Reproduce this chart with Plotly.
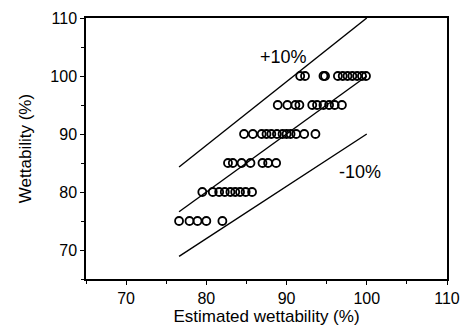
import plotly.graph_objects as go

# Measured points grouped by wettability level
row_75_x = [76.6, 77.9, 78.9, 80.0, 82.0]
row_80_x = [79.5, 80.8, 81.6, 82.3, 83.0, 83.6, 84.2, 84.9, 85.7]
row_85_x = [82.7, 83.3, 84.4, 85.5, 87.0, 87.7, 88.7]
row_90_x = [84.7, 85.8, 86.9, 87.5, 88.1, 88.8, 89.5, 90.0, 90.5, 91.2, 92.2, 93.6]
row_95_x = [88.9, 90.1, 91.1, 91.6, 93.2, 93.8, 94.6, 95.3, 96.0, 96.9]
row_100_x = [91.7, 92.3, 94.6, 94.8, 96.4, 97.0, 97.6, 98.2, 98.8, 99.4, 99.9]
row_levels = [75, 80, 85, 90, 95, 100]

# Reference lines (estimated endpoints)
line_x = [76.6, 100.0]
upper_y = [84.3, 110.0]
mid_y = [76.6, 100.0]
lower_y = [68.9, 90.0]

rows = [row_75_x, row_80_x, row_85_x, row_90_x, row_95_x, row_100_x]
xs, ys = [], []
for lvl, r in zip(row_levels, rows):
    xs += r
    ys += [lvl] * len(r)

FONT = "Liberation Sans, Arial"

fig = go.Figure()
for yy in (upper_y, mid_y, lower_y):
    fig.add_trace(go.Scatter(x=line_x, y=yy, mode="lines",
                             line=dict(color="black", width=1.4),
                             showlegend=False, hoverinfo="skip"))
fig.add_trace(go.Scatter(x=xs, y=ys, mode="markers",
                         marker=dict(symbol="circle-open", size=8, color="black",
                                     line=dict(width=1.8, color="black")),
                         showlegend=False))

fig.add_annotation(x=89.6, y=103.3, text="+10%", showarrow=False,
                   font=dict(size=18, color="black", family=FONT))
fig.add_annotation(x=99.2, y=83.5, text="-10%", showarrow=False,
                   font=dict(size=18, color="black", family=FONT))

axis_common = dict(showline=True, linecolor="black", linewidth=1.5, mirror=True,
                   ticks="outside", ticklen=4, tickwidth=1.2, tickcolor="black",
                   showgrid=False, zeroline=False, automargin=False,
                   tickfont=dict(size=16, color="black", family=FONT),
                   dtick=10,
                   minor=dict(ticks="outside", ticklen=3, tickwidth=1, tickcolor="black", dtick=5))

fig.update_layout(
    width=466, height=328,
    margin=dict(l=86, r=19, t=18, b=49),
    plot_bgcolor="white", paper_bgcolor="white",
    xaxis=dict(range=[65, 110], tick0=70,
               title=dict(text="Estimated wettability (%)", standoff=4,
                          font=dict(size=17, color="black", family=FONT)),
               **axis_common),
    yaxis=dict(range=[65, 110], tick0=70,
               title=dict(text="Wettability (%)", standoff=14,
                          font=dict(size=17, color="black", family=FONT)),
               **axis_common),
)

fig.write_html("out.html")
